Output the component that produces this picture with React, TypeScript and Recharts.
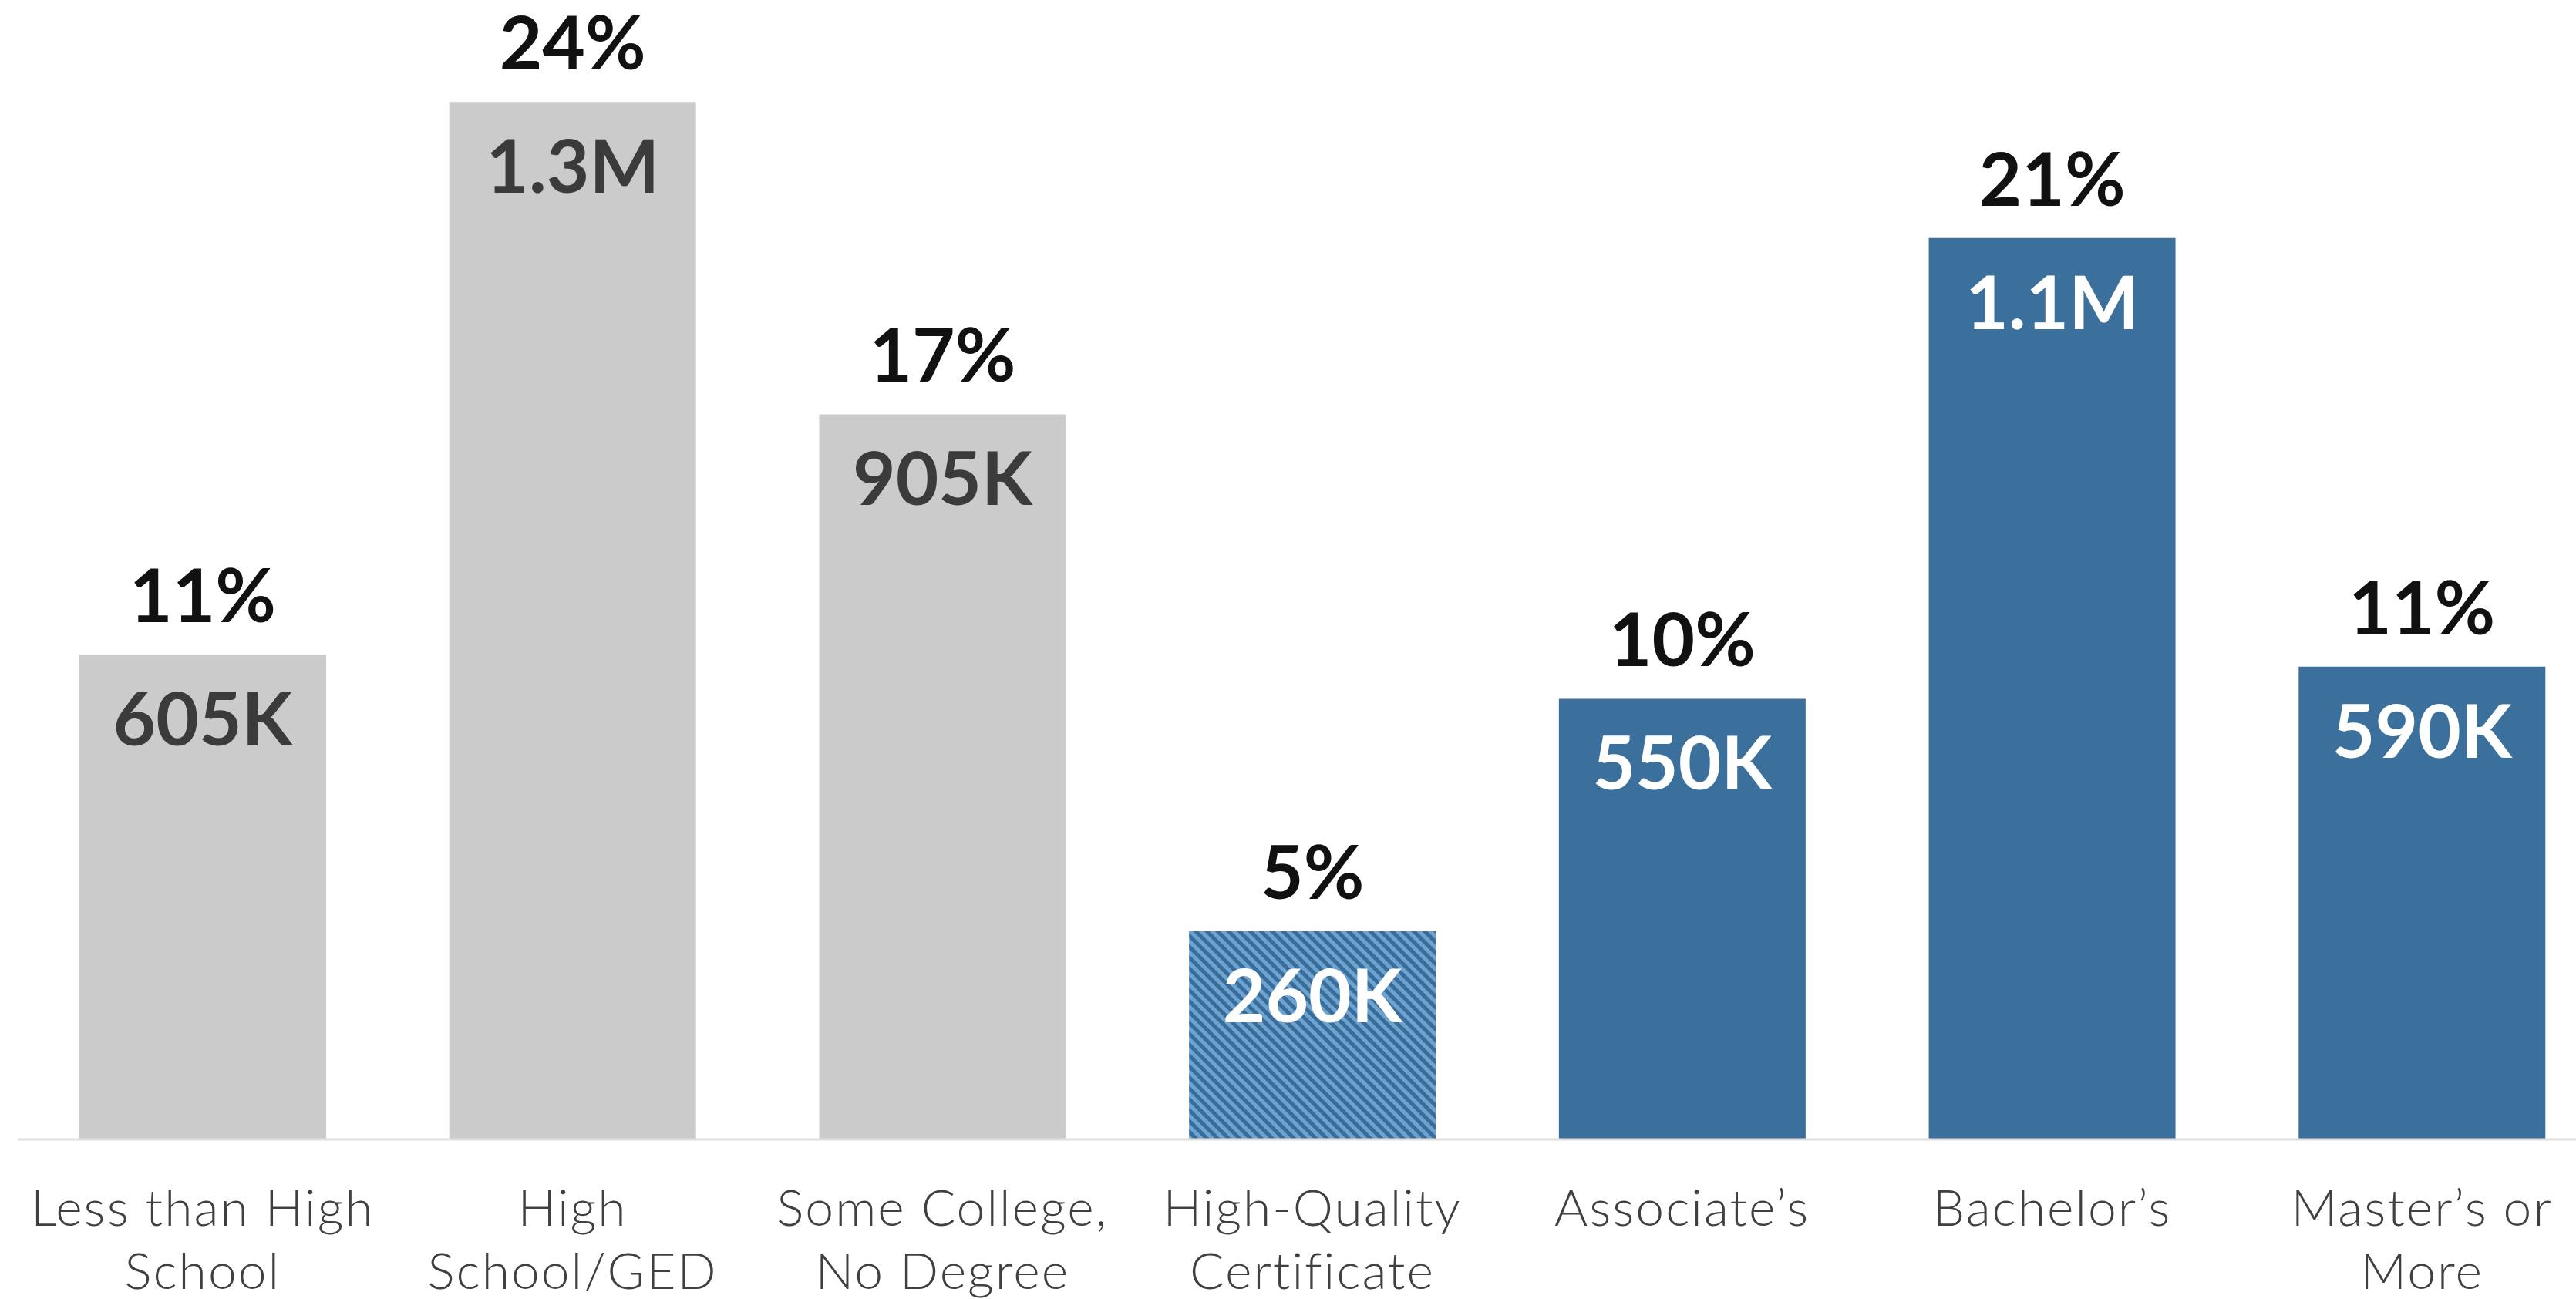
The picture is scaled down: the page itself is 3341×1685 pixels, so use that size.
import React from 'react';
import { BarChart, Bar, XAxis, YAxis, Cell, LabelList } from 'recharts';

const categories = [
  'Less than High School',
  'High School/GED',
  'Some College, No Degree',
  'High-Quality Certificate',
  'Associate’s',
  'Bachelor’s',
  'Master’s or More',
];
const tickLines = [
  ['Less than High', 'School'],
  ['High', 'School/GED'],
  ['Some College,', 'No Degree'],
  ['High-Quality', 'Certificate'],
  ['Associate’s'],
  ['Bachelor’s'],
  ['Master’s or', 'More'],
];
const workers = [605000, 1295000, 905000, 260000, 550000, 1125000, 590000];
const workerLabels = ['605K', '1.3M', '905K', '260K', '550K', '1.1M', '590K'];
const shareLabels = ['11%', '24%', '17%', '5%', '10%', '21%', '11%'];

const data = categories.map((name, i) => ({ name, workers: workers[i] }));

const GRAY = '#cbcbcb';
const BLUE = '#3b6f9c';
const barFill = (i: number) => (i < 3 ? GRAY : i === 3 ? 'url(#hatch)' : BLUE);

const CategoryTick = (props: any) => {
  const { x, y, index } = props;
  const lines = tickLines[index] || [];
  return (
    <text
      x={x}
      y={y}
      textAnchor="middle"
      fill="#404040"
      fontFamily="Lato"
      fontWeight={300}
      fontSize={66}
      letterSpacing={2}
    >
      {lines.map((line, k) => (
        <tspan key={k} x={x} y={y + 112 + k * 82}>
          {line}
        </tspan>
      ))}
    </text>
  );
};

const BarLabels = (props: any) => {
  const { x, y, width, index } = props;
  const cx = x + width / 2;
  return (
    <g fontFamily="Lato" fontWeight={700} fontSize={96} textAnchor="middle">
      <text x={cx} y={y - 42} fill="#111111">
        {shareLabels[index]}
      </text>
      <text x={cx} y={y + 118} fill={index < 3 ? '#3b3b3b' : '#ffffff'}>
        {workerLabels[index]}
      </text>
    </g>
  );
};

const App = () => {
  return (
    <div style={{ position: 'fixed', left: 0, top: 0, width: 3341, height: 1685, overflow: 'hidden', background: '#fff' }}>
      <BarChart
        width={3381}
        height={1685}
        data={data}
        margin={{ top: 23, right: 0, left: 23, bottom: 7 }}
        barSize={320}
      >
        <defs>
          <pattern id="hatch" patternUnits="userSpaceOnUse" width={10} height={10} patternTransform="rotate(-45)">
            <rect width={10} height={10} fill="#6fa3cf" />
            <rect width={5} height={10} fill="#386c9a" />
          </pattern>
        </defs>
        <XAxis
          dataKey="name"
          height={200}
          axisLine={{ stroke: '#dedede', strokeWidth: 3 }}
          tickLine={false}
          tickSize={0}
          tickMargin={0}
          interval={0}
          tick={<CategoryTick />}
        />
        <YAxis hide domain={[0, 1400000]} />
        <Bar dataKey="workers" isAnimationActive={false}>
          {data.map((_, i) => (
            <Cell key={i} fill={barFill(i)} />
          ))}
          <LabelList dataKey="workers" content={<BarLabels />} />
        </Bar>
      </BarChart>
    </div>
  );
};

export default App;
